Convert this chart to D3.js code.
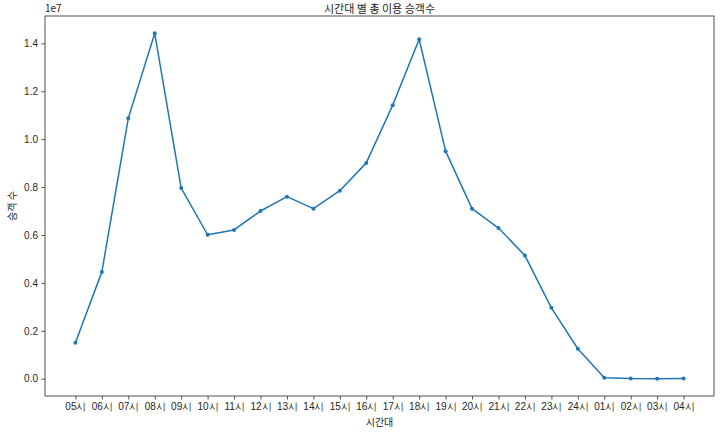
<!DOCTYPE html>
<html><head><meta charset="utf-8">
<script src="https://cdn.jsdelivr.net/npm/d3@7"></script>
<style>
body{margin:0;background:#fff;}
svg{display:block;font-family:"Noto Sans CJK KR","Noto Sans",sans-serif;}
</style></head>
<body><svg id="c" width="723" height="436"></svg>
<script>
const hours = ["05시","06시","07시","08시","09시","10시","11시","12시","13시","14시","15시","16시","17시","18시","19시","20시","21시","22시","23시","24시","01시","02시","03시","04시"];
const passengers = [1500000,4460000,10870000,14420000,7960000,6010000,6210000,7000000,7600000,7100000,7850000,9010000,11420000,14170000,9500000,7100000,6290000,5140000,2960000,1250000,40000,5000,3000,6000];
const yTicks = [0,2000000,4000000,6000000,8000000,10000000,12000000,14000000];
const title = "시간대 별 총 이용 승객수";
const xLabel = "시간대";
const yLabel = "승객 수";

const svg = d3.select("#c");
const L=45, R=714, T=16, B=396;
const n = hours.length;
const xm = (n-1)*0.05;
const x = d3.scaleLinear().domain([-xm, n-1+xm]).range([L,R]);
const ymin = d3.min(passengers), ymax = d3.max(passengers);
const ym = (ymax-Math.min(0,ymin))*0.05;
const y = d3.scaleLinear().domain([Math.min(0,ymin)-ym, ymax+ym]).range([B,T]);

const color="#1f77b4", ink="#262626";

const xAxis = d3.axisBottom(x).tickValues(d3.range(n)).tickFormat(i=>hours[i]).tickSizeOuter(0).tickSize(3.5).tickPadding(3.5);
const gx = svg.append("g").attr("transform",`translate(0,${B})`).call(xAxis);
const yAxis = d3.axisLeft(y).tickValues(yTicks).tickFormat(v=>(v/1e7).toFixed(1)).tickSizeOuter(0).tickSize(3.5).tickPadding(3.5);
const gy = svg.append("g").attr("transform",`translate(${L},0)`).call(yAxis);
[gx,gy].forEach(g=>{
  g.selectAll("path.domain").remove();
  g.selectAll("line").attr("stroke",ink).attr("stroke-width",0.8);
  g.selectAll("text").attr("fill",ink).style("font-size","10px");
});

svg.append("rect").attr("x",L).attr("y",T).attr("width",R-L).attr("height",B-T)
  .attr("fill","none").attr("stroke",ink).attr("stroke-width",0.8);

const line = d3.line().x((d,i)=>x(i)).y(d=>y(d));
svg.append("path").datum(passengers).attr("d",line).attr("fill","none")
  .attr("stroke",color).attr("stroke-width",1.5).attr("stroke-linejoin","round");
svg.append("g").selectAll("circle").data(passengers).join("circle")
  .attr("cx",(d,i)=>x(i)).attr("cy",d=>y(d)).attr("r",2).attr("fill",color);

svg.append("text").attr("x",(L+R)/2).attr("y",13).attr("text-anchor","middle")
  .style("font-size","11px").attr("fill",ink).text(title);
svg.append("text").attr("x",L).attr("y",T-4).attr("text-anchor","start")
  .style("font-size","10px").attr("fill",ink).text("1e7");
svg.append("text").attr("x",(L+R)/2).attr("y",426).attr("text-anchor","middle")
  .style("font-size","10px").attr("fill",ink).text(xLabel);
svg.append("text").attr("transform",`translate(16,${(T+B)/2}) rotate(-90)`).attr("text-anchor","middle")
  .style("font-size","10px").attr("fill",ink).text(yLabel);
</script></body></html>
